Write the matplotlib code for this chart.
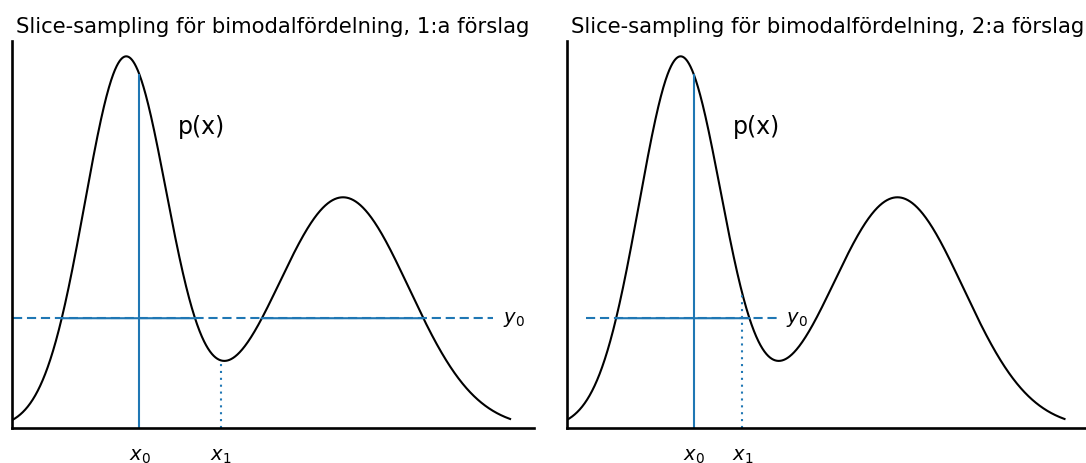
import numpy as np
import matplotlib
matplotlib.use("Agg")
import matplotlib.pyplot as plt

# ---- data ----
titles = ["Slice-sampling för bimodalfördelning, 1:a förslag",
          "Slice-sampling för bimodalfördelning, 2:a förslag"]
comp_means = [0.0, 5.0]          # peak positions
comp_sds = [0.95, 1.52]          # peak widths
comp_heights = [0.957, 0.596]    # peak heights
x_range = [-2.62, 8.85]          # extent of the drawn density
x0_vals = [0.31, 0.31]
x1_vals = [2.19, 1.43]
windows = [(-2.60, 8.46), (-2.18, 2.22)]
y0 = 0.284
tick_labels = ["$x_0$", "$x_1$"]
curve_label = "p(x)"
y0_label = "$y_0$"

BLUE = "#1f77b4"

x = np.linspace(x_range[0], x_range[1], 2000)


def density(xx):
    xx = np.asarray(xx, dtype=float)
    out = np.zeros_like(xx)
    for m, s, h in zip(comp_means, comp_sds, comp_heights):
        out += h * np.exp(-0.5 * ((xx - m) / s) ** 2)
    return out


px = density(x)

fig = plt.figure(figsize=(10.86, 4.64), dpi=100)
ax_w, ax_h = 521.7 / 1086, 387.6 / 464
ax_b = (464 - 429.3) / 464
lefts = [12.3 / 1086, 566.7 / 1086]

for i in range(2):
    ax = fig.add_axes([lefts[i], ax_b, ax_w, ax_h])
    ax.plot(x, px, color="black", lw=1.5)

    x0 = x0_vals[i]
    x1 = x1_vals[i]
    wl, wr = windows[i]

    # vertical line at x0
    ax.plot([x0, x0], [0, density(x0)], color=BLUE, lw=1.5)
    # dotted line at x1
    ax.plot([x1, x1], [0, density(x1)], color=BLUE, lw=1.5,
            linestyle=(0, (1, 2.3)))
    # slice window (dashed) and part inside slice (solid)
    ax.plot([wl, wr], [y0, y0], color=BLUE, lw=1.5,
            linestyle=(0, (4.4, 2.3)))
    xs = np.linspace(wl, wr, 3000)
    ys = np.where(density(xs) >= y0, y0, np.nan)
    ax.plot(xs, ys, color=BLUE, lw=1.5)

    ax.text(wr + 0.22, y0, y0_label, fontsize=14, va="center", ha="left")
    ax.text(1.2, 0.78, curve_label, fontsize=17, va="center", ha="left")

    ax.set_xlim(-2.62, -2.62 + 521.7 / 43.4)
    ax.set_ylim(0, 1)
    ax.set_xticks([x0, x1])
    ax.set_xticklabels(tick_labels, fontsize=14)
    ax.tick_params(axis="x", length=0, pad=12.5)
    ax.set_yticks([])
    for s in ["top", "right"]:
        ax.spines[s].set_visible(False)
    for s in ["left", "bottom"]:
        ax.spines[s].set_linewidth(1.9)
    ax.set_title(titles[i], fontsize=15.2)

fig.savefig("out.png", dpi=100)
